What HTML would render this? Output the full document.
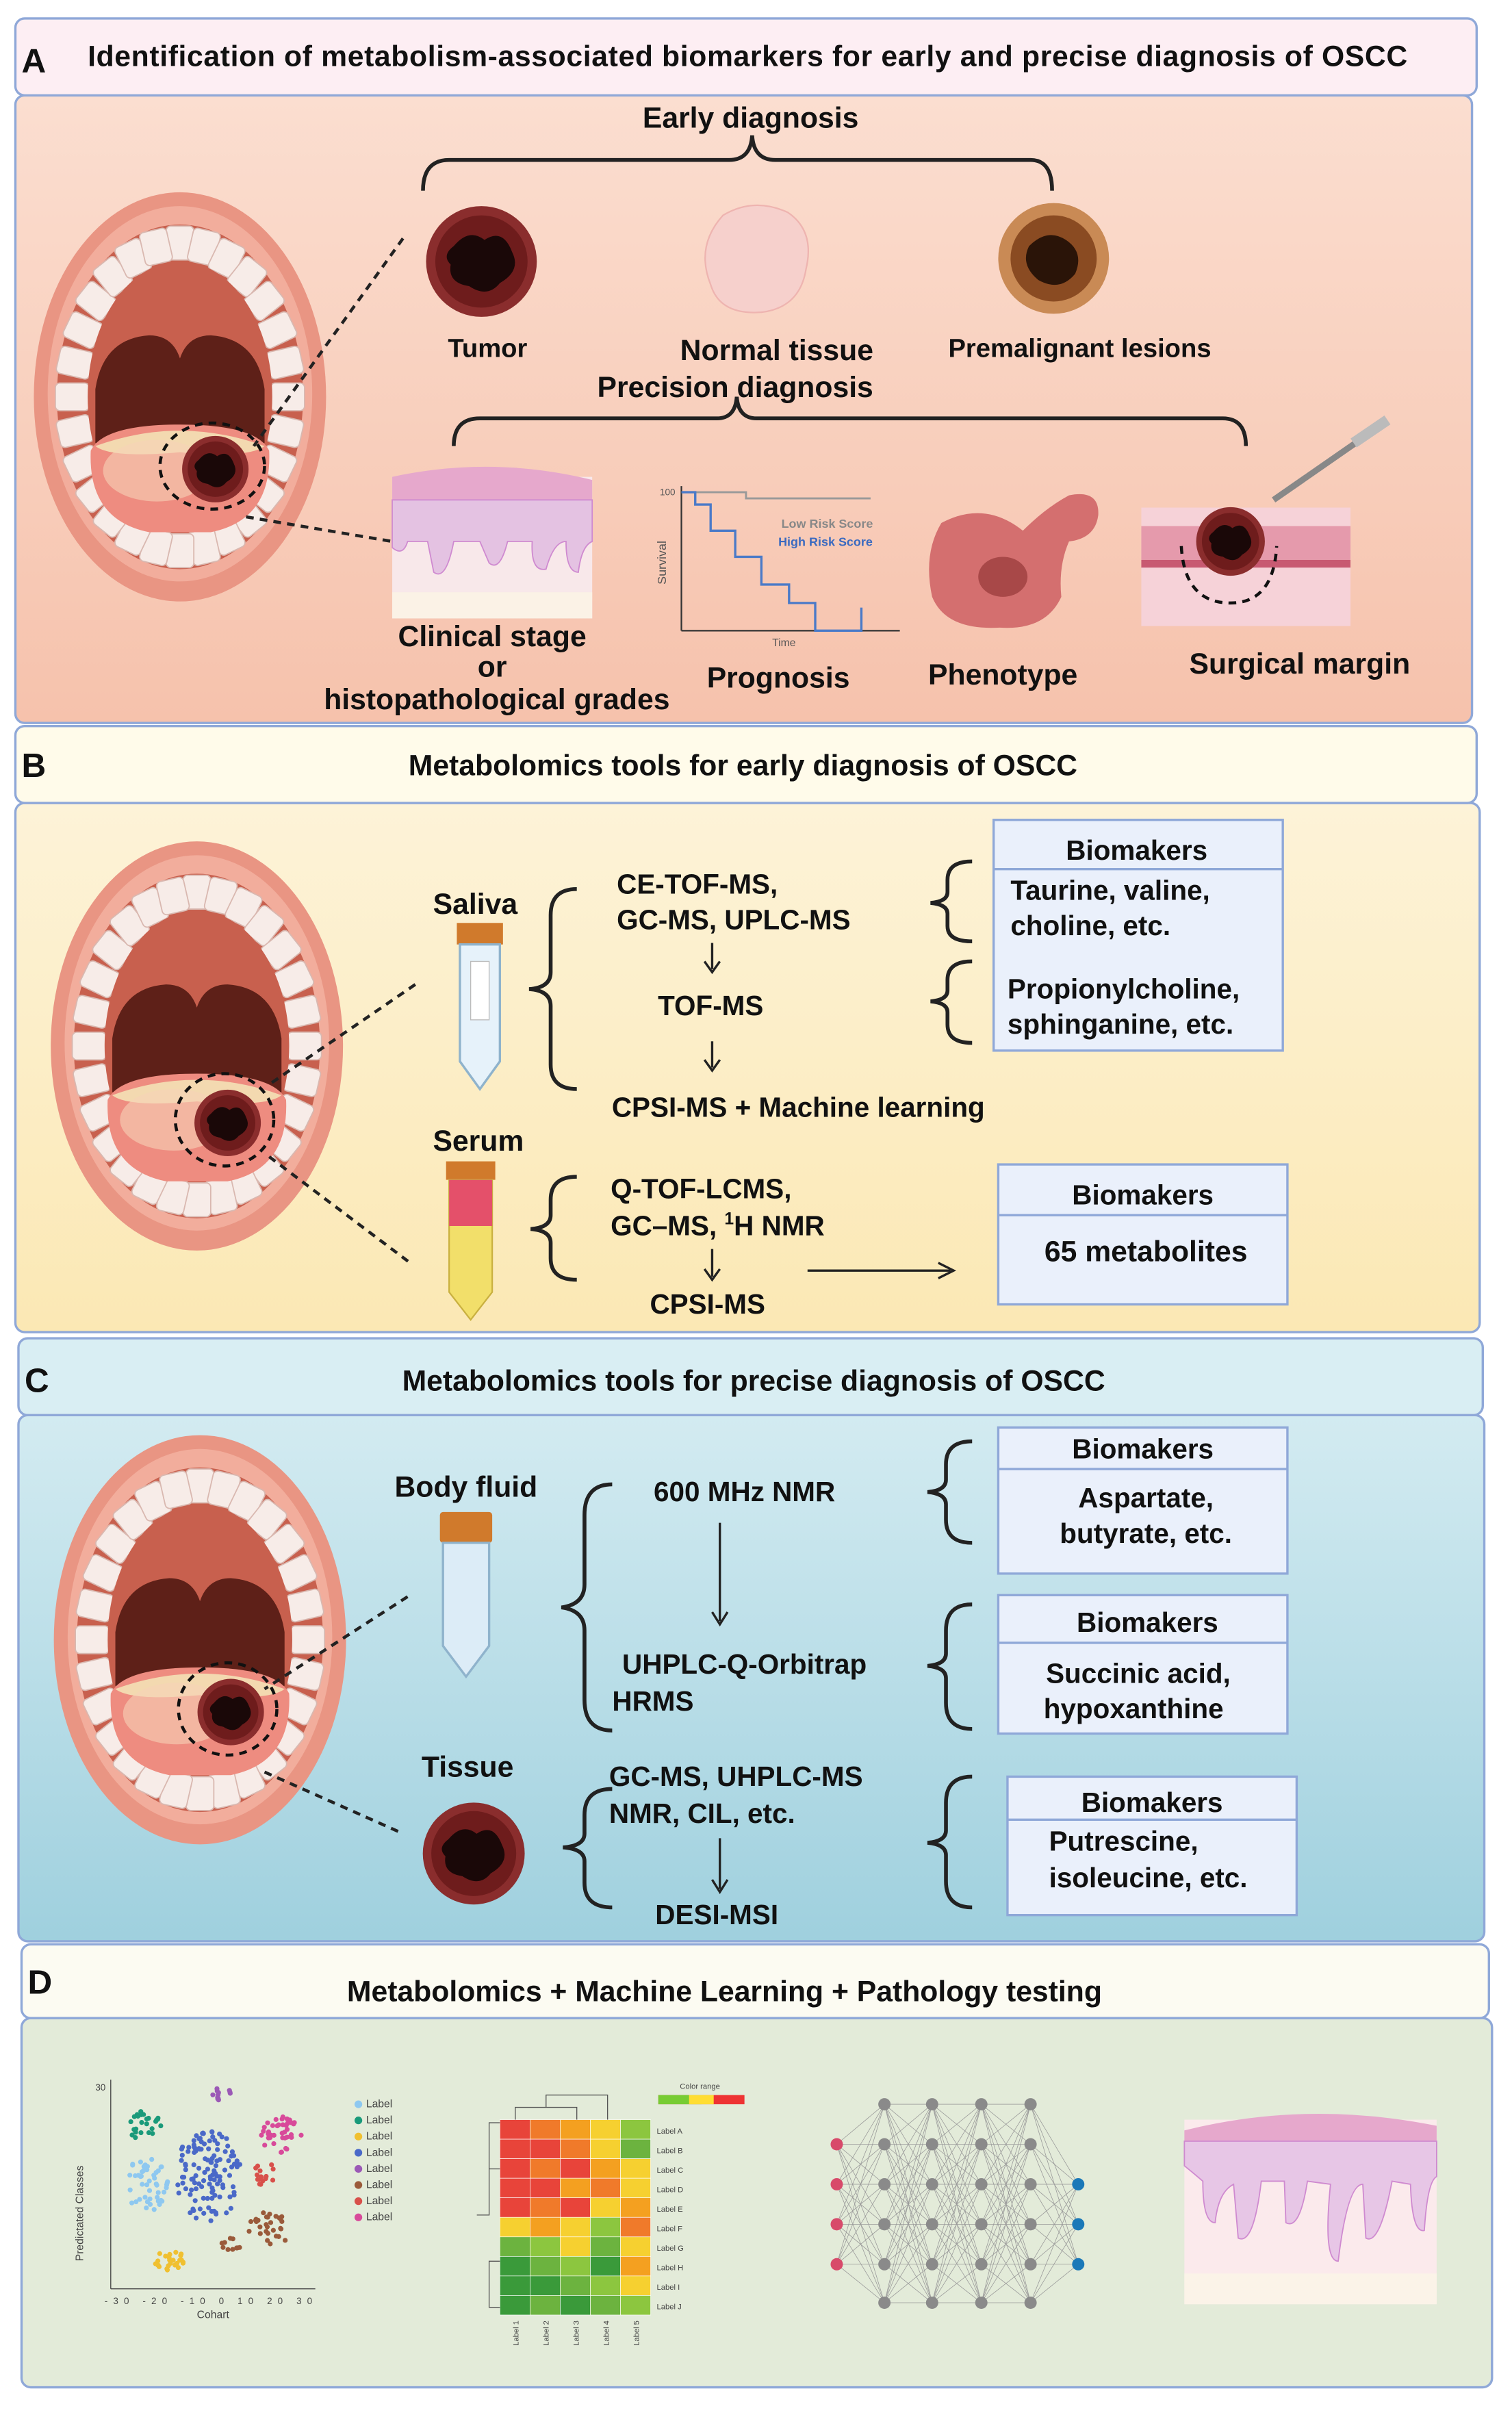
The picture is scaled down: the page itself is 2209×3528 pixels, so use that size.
<!DOCTYPE html>
<html><head><meta charset="utf-8">
<style>
html,body{margin:0;padding:0;background:#fff;}
svg{display:block;}
text{font-family:"Liberation Sans",Arial,sans-serif;font-weight:bold;fill:#111;}
</style></head>
<body>
<svg id="s" width="2209" height="3528" viewBox="0 0 983 1570" preserveAspectRatio="none" xmlns="http://www.w3.org/2000/svg">
<defs>
<linearGradient id="gA" x1="0" y1="0" x2="0" y2="1"><stop offset="0" stop-color="#fbded0"/><stop offset="1" stop-color="#f6c2ac"/></linearGradient>
<linearGradient id="gB" x1="0" y1="0" x2="0" y2="1"><stop offset="0" stop-color="#fdf3d8"/><stop offset="1" stop-color="#fbe8b4"/></linearGradient>
<linearGradient id="gC" x1="0" y1="0" x2="0" y2="1"><stop offset="0" stop-color="#d3ebf1"/><stop offset="1" stop-color="#9fd0de"/></linearGradient>
<g id="mouth">
  <ellipse cx="0" cy="0" rx="95" ry="133" fill="#e99583"/>
  <ellipse cx="0" cy="-2" rx="86" ry="122" fill="#f2ad9c"/>
  <ellipse cx="0" cy="0" rx="80" ry="112" fill="#c8604e"/>
  <g id="teeth"></g>
  <ellipse cx="0" cy="0" rx="60" ry="88" fill="#c8604e"/>
  <path d="M-55 -5 Q-50 -38 -20 -40 Q-5 -40 0 -25 Q5 -40 20 -40 Q50 -38 55 -5 L55 30 L-55 30 Z" fill="#5e2018"/>
  <path d="M-58 35 Q-50 18 0 18 Q50 18 58 35 Q60 80 20 88 L-20 88 Q-60 80 -58 35Z" fill="#ee8c80"/>
  <path d="M-55 32 Q0 12 55 32 Q45 40 0 36 Q-45 40 -55 32 Z" fill="#f3d9b0"/>
  <ellipse cx="-15" cy="48" rx="35" ry="20" fill="#f6d2b8" opacity="0.6"/>
</g>
<g id="tumor">
  <circle r="36" fill="#8a2d2d"/>
  <circle r="30" fill="#6e1c1c"/>
  <path d="M-18 -10 Q-8 -22 2 -14 Q14 -22 20 -6 Q26 6 12 14 Q4 24 -8 16 Q-22 14 -20 2 Q-26 -4 -18 -10Z" fill="#1a0808"/>
</g>
<g id="tubeS">
  <rect x="0" y="0" width="30" height="14" fill="#d07a2c"/>
  <path d="M2 14 L28 14 L28 90 L15 108 L2 90 Z" fill="#e6f2fa" stroke="#8fb3cc" stroke-width="1.5"/>
</g>
</defs>

<rect width="983" height="1570" fill="#fff"/>

<!-- PANEL A -->
<rect x="10" y="62" width="947" height="408" rx="6" fill="url(#gA)" stroke="#8fa8d8" stroke-width="1.5"/>
<rect x="10" y="12" width="950" height="50" rx="6" fill="#fdeef3" stroke="#8fa8d8" stroke-width="1.5"/>
<text x="14" y="47" font-size="22">A</text>
<text x="57" y="43" font-size="19" textLength="858">Identification of metabolism-associated biomarkers for early and precise diagnosis of OSCC</text>
<use href="#mouth" x="117" y="258"/>
<use href="#tumor" transform="translate(140,305) scale(0.6)"/>
<ellipse cx="138" cy="303" rx="34" ry="28" fill="none" stroke="#111" stroke-width="2" stroke-dasharray="5,4"/>
<line x1="262" y1="155" x2="165" y2="290" stroke="#222" stroke-width="2" stroke-dasharray="5,4"/>
<line x1="160" y1="336" x2="255" y2="352" stroke="#222" stroke-width="2" stroke-dasharray="5,4"/>
<text x="488" y="83" font-size="19" text-anchor="middle">Early diagnosis</text>
<path d="M275 124 Q275 104 292 104 L474 104 Q488 104 489 88 Q490 104 504 104 L670 104 Q684 104 684 124" fill="none" stroke="#222" stroke-width="2.5"/>
<use href="#tumor" transform="translate(313,170)"/>
<path d="M470 140 Q490 128 512 138 Q530 150 524 175 Q520 200 495 203 Q468 205 462 185 Q452 160 470 140Z" fill="#f6d0cc" stroke="#eeb4b0"/>
<g transform="translate(685,168)"><circle r="36" fill="#c98a55"/><circle r="28" fill="#8a4b22"/><path d="M-16 -8 Q-4 -20 8 -12 Q20 -4 14 10 Q4 22 -10 14 Q-22 4 -16 -8Z" fill="#2a1408"/></g>
<text x="317" y="232" font-size="17" text-anchor="middle">Tumor</text>
<text x="505" y="234" font-size="19" text-anchor="middle">Normal tissue</text>
<text x="702" y="232" font-size="17" text-anchor="middle">Premalignant lesions</text>
<text x="478" y="258" font-size="19" text-anchor="middle">Precision diagnosis</text>
<path d="M295 290 Q295 272 312 272 L466 272 Q478 272 479 258 Q480 272 492 272 L795 272 Q810 272 810 290" fill="none" stroke="#222" stroke-width="2.5"/>
<rect x="255" y="310" width="130" height="92" fill="#f8e8ea"/>
<path d="M255 310 Q320 296 385 312 L385 330 L255 330Z" fill="#e6a8cc"/>
<path d="M255 325 L385 325 L385 352 Q378 355 376 372 Q368 372 368 352 Q360 352 355 370 Q345 372 346 352 L330 352 Q325 372 318 366 L312 352 L295 352 Q290 378 282 372 L278 352 L265 352 Q262 362 255 356Z" fill="#e4c2e2" stroke="#cf8ad0" stroke-width="0.8"/>
<rect x="255" y="385" width="130" height="17" fill="#fbf2e6"/>
<line x1="443" y1="316" x2="443" y2="410" stroke="#333"/>
<line x1="443" y1="410" x2="585" y2="410" stroke="#333"/>
<path d="M443 320 L485 320 L485 324 L566 324" fill="none" stroke="#999" stroke-width="1.3"/>
<path d="M443 320 L452 320 L452 328 L462 328 L462 345 L478 345 L478 362 L495 362 L495 380 L513 380 L513 392 L530 392 L530 410 L560 410 L560 395" fill="none" stroke="#4a7ac8" stroke-width="1.5"/>
<text x="508" y="343" font-size="8" style="fill:#888">Low Risk Score</text>
<text x="506" y="355" font-size="8" style="fill:#3a6ac0">High Risk Score</text>
<text x="433" y="380" font-size="8" transform="rotate(-90 433 380)" style="fill:#555;font-weight:normal">Survival</text>
<text x="502" y="420" font-size="7" style="fill:#555;font-weight:normal">Time</text>
<text x="429" y="322" font-size="6" style="fill:#555;font-weight:normal">100</text>
<path d="M612 340 Q640 325 665 345 Q680 330 695 322 Q715 318 714 335 Q712 350 695 352 Q688 368 690 388 Q680 410 650 408 Q615 410 606 388 Q600 360 612 340Z" fill="#d46f6f"/>
<ellipse cx="652" cy="375" rx="16" ry="13" fill="#a84848"/>
<rect x="742" y="330" width="136" height="77" fill="#f6d2d8"/>
<rect x="742" y="342" width="136" height="22" fill="#e59aac"/>
<rect x="742" y="364" width="136" height="5" fill="#c85a72"/>
<use href="#tumor" transform="translate(800,352) scale(0.62)"/>
<path d="M768 355 Q770 392 800 392 Q828 392 830 355" fill="none" stroke="#111" stroke-width="2" stroke-dasharray="5,4"/>
<line x1="828" y1="325" x2="900" y2="275" stroke="#888" stroke-width="4"/>
<line x1="880" y1="288" x2="902" y2="273" stroke="#bbb" stroke-width="7"/>
<text x="320" y="420" font-size="19" text-anchor="middle">Clinical stage</text>
<text x="320" y="440" font-size="19" text-anchor="middle">or</text>
<text x="323" y="461" font-size="19" text-anchor="middle">histopathological grades</text>
<text x="506" y="447" font-size="19" text-anchor="middle">Prognosis</text>
<text x="652" y="445" font-size="19" text-anchor="middle">Phenotype</text>
<text x="845" y="438" font-size="19" text-anchor="middle">Surgical margin</text>

<!-- PANEL B -->
<rect x="10" y="522" width="952" height="344" rx="6" fill="url(#gB)" stroke="#8fa8d8" stroke-width="1.5"/>
<rect x="10" y="472" width="950" height="50" rx="6" fill="#fffbea" stroke="#8fa8d8" stroke-width="1.5"/>
<text x="14" y="505" font-size="22">B</text>
<text x="483" y="504" font-size="19" text-anchor="middle">Metabolomics tools for early diagnosis of OSCC</text>
<use href="#mouth" x="128" y="680"/>
<use href="#tumor" transform="translate(148,730) scale(0.6)"/>
<ellipse cx="146" cy="728" rx="32" ry="30" fill="none" stroke="#111" stroke-width="2" stroke-dasharray="5,4"/>
<line x1="270" y1="640" x2="175" y2="705" stroke="#222" stroke-width="2" stroke-dasharray="5,4"/>
<line x1="175" y1="752" x2="268" y2="822" stroke="#222" stroke-width="2" stroke-dasharray="5,4"/>
<text x="309" y="594" font-size="19" text-anchor="middle">Saliva</text>
<use href="#tubeS" x="297" y="600"/>
<rect x="306" y="625" width="12" height="38" fill="#fff" stroke="#bbb" stroke-width="0.6"/>
<text x="311" y="748" font-size="19" text-anchor="middle">Serum</text>
<rect x="290" y="755" width="32" height="12" fill="#d07a2c"/>
<path d="M292 767 L320 767 L320 840 L306 858 L292 840Z" fill="#f2df6a" stroke="#c9b040"/>
<rect x="292" y="767" width="28" height="30" fill="#e4506a"/>
<path d="M375 578 Q358 578 358 595 L358 632 Q358 642 344 643 Q358 644 358 654 L358 692 Q358 708 375 708" fill="none" stroke="#222" stroke-width="2.5"/>
<text x="401" y="581" font-size="18">CE-TOF-MS,</text>
<text x="401" y="604" font-size="18">GC-MS, UPLC-MS</text>
<path d="M463 613 L463 630 M458 625 L463 632 L468 625" fill="none" stroke="#222" stroke-width="1.5"/>
<text x="462" y="660" font-size="18" text-anchor="middle">TOF-MS</text>
<path d="M463 677 L463 694 M458 689 L463 696 L468 689" fill="none" stroke="#222" stroke-width="1.5"/>
<text x="519" y="726" font-size="18" text-anchor="middle">CPSI-MS + Machine learning</text>
<path d="M632 560 Q616 560 616 572 L616 580 Q616 586 605 587 Q616 588 616 594 L616 602 Q616 612 632 612" fill="none" stroke="#222" stroke-width="2.5"/>
<path d="M632 625 Q616 625 616 637 L616 644 Q616 650 605 651 Q616 652 616 658 L616 666 Q616 678 632 678" fill="none" stroke="#222" stroke-width="2.5"/>
<rect x="646" y="533" width="188" height="150" fill="#eaf0fb" stroke="#8fa8d8" stroke-width="1.5"/>
<line x1="646" y1="565" x2="834" y2="565" stroke="#8fa8d8" stroke-width="1.5"/>
<text x="739" y="559" font-size="18" text-anchor="middle">Biomakers</text>
<text x="657" y="585" font-size="18">Taurine, valine,</text>
<text x="657" y="608" font-size="18">choline, etc.</text>
<text x="655" y="649" font-size="18">Propionylcholine,</text>
<text x="655" y="672" font-size="18">sphinganine, etc.</text>
<path d="M375 765 Q358 765 358 780 L358 790 Q358 798 345 799 Q358 800 358 808 L358 818 Q358 832 375 832" fill="none" stroke="#222" stroke-width="2.5"/>
<text x="397" y="779" font-size="18">Q-TOF-LCMS,</text>
<text x="397" y="803" font-size="18">GC–MS, <tspan font-size="11" dy="-7">1</tspan><tspan dy="7">H NMR</tspan></text>
<path d="M463 812 L463 830 M458 825 L463 832 L468 825" fill="none" stroke="#222" stroke-width="1.5"/>
<text x="460" y="854" font-size="18" text-anchor="middle">CPSI-MS</text>
<path d="M525 826 L618 826 M610 821 L620 826 L610 831" fill="none" stroke="#222" stroke-width="1.5"/>
<rect x="649" y="757" width="188" height="91" fill="#eaf0fb" stroke="#8fa8d8" stroke-width="1.5"/>
<line x1="649" y1="790" x2="837" y2="790" stroke="#8fa8d8" stroke-width="1.5"/>
<text x="743" y="783" font-size="18" text-anchor="middle">Biomakers</text>
<text x="745" y="820" font-size="19" text-anchor="middle">65 metabolites</text>

<!-- PANEL C -->
<rect x="12" y="920" width="953" height="342" rx="6" fill="url(#gC)" stroke="#8fa8d8" stroke-width="1.5"/>
<rect x="12" y="870" width="952" height="50" rx="6" fill="#d9eef3" stroke="#8fa8d8" stroke-width="1.5"/>
<text x="16" y="905" font-size="22">C</text>
<text x="490" y="904" font-size="19" text-anchor="middle">Metabolomics tools for precise diagnosis of OSCC</text>
<use href="#mouth" x="130" y="1066"/>
<use href="#tumor" transform="translate(150,1113) scale(0.6)"/>
<ellipse cx="148" cy="1111" rx="32" ry="30" fill="none" stroke="#111" stroke-width="2" stroke-dasharray="5,4"/>
<line x1="265" y1="1038" x2="172" y2="1098" stroke="#222" stroke-width="2" stroke-dasharray="5,4"/>
<line x1="172" y1="1152" x2="262" y2="1192" stroke="#222" stroke-width="2" stroke-dasharray="5,4"/>
<text x="303" y="973" font-size="19" text-anchor="middle">Body fluid</text>
<rect x="286" y="983" width="34" height="20" rx="2" fill="#d07a2c"/>
<path d="M288 1003 L318 1003 L318 1070 L303 1090 L288 1070Z" fill="#dcecf7" stroke="#8fb3cc" stroke-width="1.5"/>
<text x="304" y="1155" font-size="19" text-anchor="middle">Tissue</text>
<use href="#tumor" transform="translate(308,1205) scale(0.92)"/>
<path d="M398 965 Q380 965 380 985 L380 1030 Q380 1043 365 1045 Q380 1047 380 1060 L380 1105 Q380 1125 398 1125" fill="none" stroke="#222" stroke-width="2.5"/>
<text x="484" y="976" font-size="18" text-anchor="middle">600 MHz NMR</text>
<path d="M468 990 L468 1054 M463 1048 L468 1056 L473 1048" fill="none" stroke="#222" stroke-width="1.5"/>
<text x="484" y="1088" font-size="18" text-anchor="middle">UHPLC-Q-Orbitrap</text>
<text x="398" y="1112" font-size="18">HRMS</text>
<path d="M632 937 Q615 937 615 952 L615 962 Q615 969 603 970 Q615 971 615 978 L615 988 Q615 1003 632 1003" fill="none" stroke="#222" stroke-width="2.5"/>
<path d="M632 1043 Q615 1043 615 1060 L615 1075 Q615 1082 603 1083 Q615 1084 615 1091 L615 1107 Q615 1124 632 1124" fill="none" stroke="#222" stroke-width="2.5"/>
<rect x="649" y="928" width="188" height="95" fill="#eaf0fb" stroke="#8fa8d8" stroke-width="1.5"/>
<line x1="649" y1="955" x2="837" y2="955" stroke="#8fa8d8" stroke-width="1.5"/>
<text x="743" y="948" font-size="18" text-anchor="middle">Biomakers</text>
<text x="745" y="980" font-size="18" text-anchor="middle">Aspartate,</text>
<text x="745" y="1003" font-size="18" text-anchor="middle">butyrate, etc.</text>
<rect x="649" y="1037" width="188" height="90" fill="#eaf0fb" stroke="#8fa8d8" stroke-width="1.5"/>
<line x1="649" y1="1068" x2="837" y2="1068" stroke="#8fa8d8" stroke-width="1.5"/>
<text x="746" y="1061" font-size="18" text-anchor="middle">Biomakers</text>
<text x="740" y="1094" font-size="18" text-anchor="middle">Succinic acid,</text>
<text x="737" y="1117" font-size="18" text-anchor="middle">hypoxanthine</text>
<path d="M398 1163 Q380 1163 380 1180 L380 1192 Q380 1200 366 1201 Q380 1202 380 1210 L380 1224 Q380 1240 398 1240" fill="none" stroke="#222" stroke-width="2.5"/>
<text x="396" y="1161" font-size="18">GC-MS, UHPLC-MS</text>
<text x="396" y="1185" font-size="18">NMR, CIL, etc.</text>
<path d="M468 1195 L468 1228 M463 1222 L468 1230 L473 1222" fill="none" stroke="#222" stroke-width="1.5"/>
<text x="466" y="1251" font-size="18" text-anchor="middle">DESI-MSI</text>
<path d="M632 1155 Q615 1155 615 1172 L615 1190 Q615 1197 603 1198 Q615 1199 615 1206 L615 1223 Q615 1240 632 1240" fill="none" stroke="#222" stroke-width="2.5"/>
<rect x="655" y="1155" width="188" height="90" fill="#eaf0fb" stroke="#8fa8d8" stroke-width="1.5"/>
<line x1="655" y1="1183" x2="843" y2="1183" stroke="#8fa8d8" stroke-width="1.5"/>
<text x="749" y="1178" font-size="18" text-anchor="middle">Biomakers</text>
<text x="682" y="1203" font-size="18">Putrescine,</text>
<text x="682" y="1227" font-size="18">isoleucine, etc.</text>

<!-- PANEL D -->
<rect x="14" y="1312" width="956" height="240" rx="6" fill="#e3ebd9" stroke="#8fa8d8" stroke-width="1.5"/>
<rect x="14" y="1264" width="954" height="48" rx="6" fill="#fcfbf2" stroke="#8fa8d8" stroke-width="1.5"/>
<text x="18" y="1296" font-size="22">D</text>
<text x="471" y="1301" font-size="19" text-anchor="middle">Metabolomics + Machine Learning + Pathology testing</text>
<g id="scat"></g>
<line x1="72" y1="1352" x2="72" y2="1488" stroke="#444" stroke-width="0.6"/>
<line x1="72" y1="1488" x2="205" y2="1488" stroke="#444" stroke-width="0.6"/>
<text x="54" y="1470" font-size="7" transform="rotate(-90 54 1470)" style="font-weight:normal;fill:#444">Predictated Classes</text>
<text x="128" y="1507" font-size="7" style="font-weight:normal;fill:#444">Cohart</text>
<text x="62" y="1359" font-size="6" style="font-weight:normal;fill:#444">30</text>
<text x="68" y="1498" font-size="6" style="font-weight:normal;fill:#444" textLength="135">-30 -20 -10 0 10 20 30</text>
<g id="leg"></g>
<g id="heat"></g>
<rect x="428" y="1362" width="56" height="6" fill="#e33"/>
<rect x="428" y="1362" width="28" height="6" fill="#7c3"/>
<rect x="448" y="1362" width="16" height="6" fill="#fd3"/>
<text x="442" y="1358" font-size="5" style="font-weight:normal;fill:#444">Color range</text>
<path d="M325 1380 L318 1380 L318 1440 L310 1440 M318 1410 L325 1410 M318 1470 L325 1470 L318 1470 L318 1500 L325 1500 M335 1378 L335 1370 L375 1370 L375 1378 M355 1370 L355 1362 L395 1362 L395 1378" fill="none" stroke="#555" stroke-width="0.6"/>
<g id="nn"></g>
<rect x="770" y="1378" width="164" height="120" fill="#fbeaec"/>
<path d="M770 1385 Q850 1365 934 1382 L934 1395 L770 1395Z" fill="#e6a8cc"/>
<path d="M770 1392 L934 1392 L934 1415 Q928 1418 926 1450 Q918 1452 917 1420 L905 1418 Q897 1460 888 1455 L886 1420 Q876 1420 870 1470 Q860 1470 865 1420 L850 1418 Q845 1450 836 1445 L835 1418 L820 1418 Q815 1460 805 1455 L802 1420 Q792 1425 790 1445 Q782 1445 782 1418 Q775 1412 770 1408Z" fill="#e7c6e6" stroke="#cf8ad0" stroke-width="0.8"/>
<rect x="770" y="1478" width="164" height="20" fill="#fbf3e8"/>
</svg>
<script>
(function(){
var NS="http://www.w3.org/2000/svg";
function el(p,t,a){var e=document.createElementNS(NS,t);for(var k in a)e.setAttribute(k,a[k]);p.appendChild(e);return e;}
var tg=document.getElementById('teeth');
for(var i=0;i<28;i++){var a=i/28*6.283;var x=Math.sin(a)*70,y=-Math.cos(a)*100;var deg=a*180/Math.PI;
 el(tg,'rect',{x:-9,y:-11,width:18,height:22,rx:3,fill:'#f7ece8',stroke:'#d9b8b0','stroke-width':0.8,transform:'translate('+x+','+y+') rotate('+deg+')'});}
var seed=7;function r(){seed=(seed*16807)%2147483647;return seed/2147483647;}
var sc=document.getElementById('scat');
var cl=[[93,1382,12,10,'#1a9a7a',25],[145,1362,8,5,'#9b59b6',12],[95,1420,14,18,'#8ec8f0',50],[135,1415,22,30,'#4a69c8',120],[183,1388,14,12,'#d84a9a',40],[172,1413,8,10,'#d8504a',15],[175,1450,14,12,'#9a5a3a',30],[150,1460,8,5,'#9a5a3a',10],[110,1470,10,8,'#f0c030',25]];
cl.forEach(function(c){for(var i=0;i<c[5];i++){var a=r()*6.283,d=Math.sqrt(r());el(sc,'circle',{cx:c[0]+Math.cos(a)*d*c[2],cy:c[1]+Math.sin(a)*d*c[3],r:1.6,fill:c[4]});}});
var lg=document.getElementById('leg');var lc=['#8ec8f0','#1a9a7a','#f0c030','#4a69c8','#9b59b6','#9a5a3a','#d8504a','#d84a9a'];
lc.forEach(function(c,i){el(lg,'circle',{cx:233,cy:1368+i*10.5,r:2.5,fill:c});var t=el(lg,'text',{x:238,y:1370+i*10.5,'font-size':7,style:'font-weight:normal;fill:#444'});t.textContent='Label';});
var h=document.getElementById('heat');
var hc=[['#e8443a','#f07a2a','#f4a020','#f6d030','#8cc63f'],['#e8443a','#e8443a','#f07a2a','#f6d030','#6cb33f'],['#e8443a','#f07a2a','#e8443a','#f4a020','#f6d030'],['#e8443a','#e8443a','#f4a020','#f07a2a','#f6d030'],['#e8443a','#f07a2a','#e8443a','#f6d030','#f4a020'],['#f6d030','#f4a020','#f6d030','#8cc63f','#f07a2a'],['#6cb33f','#8cc63f','#f6d030','#6cb33f','#f6d030'],['#3a9a3a','#6cb33f','#8cc63f','#3a9a3a','#f4a020'],['#3a9a3a','#3a9a3a','#6cb33f','#8cc63f','#f6d030'],['#3a9a3a','#6cb33f','#3a9a3a','#6cb33f','#8cc63f']];
hc.forEach(function(row,i){row.forEach(function(c,j){el(h,'rect',{x:325+j*19.6,y:1378+i*12.7,width:19.6,height:12.7,fill:c,stroke:'#fff','stroke-width':0.3});});var t=el(h,'text',{x:427,y:1387+i*12.7,'font-size':5,style:'font-weight:normal;fill:#444'});t.textContent='Label '+'ABCDEFGHIJ'[i];});
for(var j=0;j<5;j++){var t=el(h,'text',{x:0,y:0,'font-size':5,transform:'translate('+(337+j*19.6)+',1525) rotate(-90)',style:'font-weight:normal;fill:#444'});t.textContent='Label '+(j+1);}
var nn=document.getElementById('nn');
var cols=[[544,[1394,1420,1446,1472],'#d84a6a'],[575,[1368,1394,1420,1446,1472,1497],'#8a8a8a'],[606,[1368,1394,1420,1446,1472,1497],'#8a8a8a'],[638,[1368,1394,1420,1446,1472,1497],'#8a8a8a'],[670,[1368,1394,1420,1446,1472,1497],'#8a8a8a'],[701,[1420,1446,1472],'#1a78b8']];
for(var c=0;c<cols.length-1;c++){cols[c][1].forEach(function(y1){cols[c+1][1].forEach(function(y2){el(nn,'line',{x1:cols[c][0],y1:y1,x2:cols[c+1][0],y2:y2,stroke:'#999','stroke-width':0.35});});});}
cols.forEach(function(c){c[1].forEach(function(y){el(nn,'circle',{cx:c[0],cy:y,r:4,fill:c[2]});});});
})();
</script>
</body></html>
